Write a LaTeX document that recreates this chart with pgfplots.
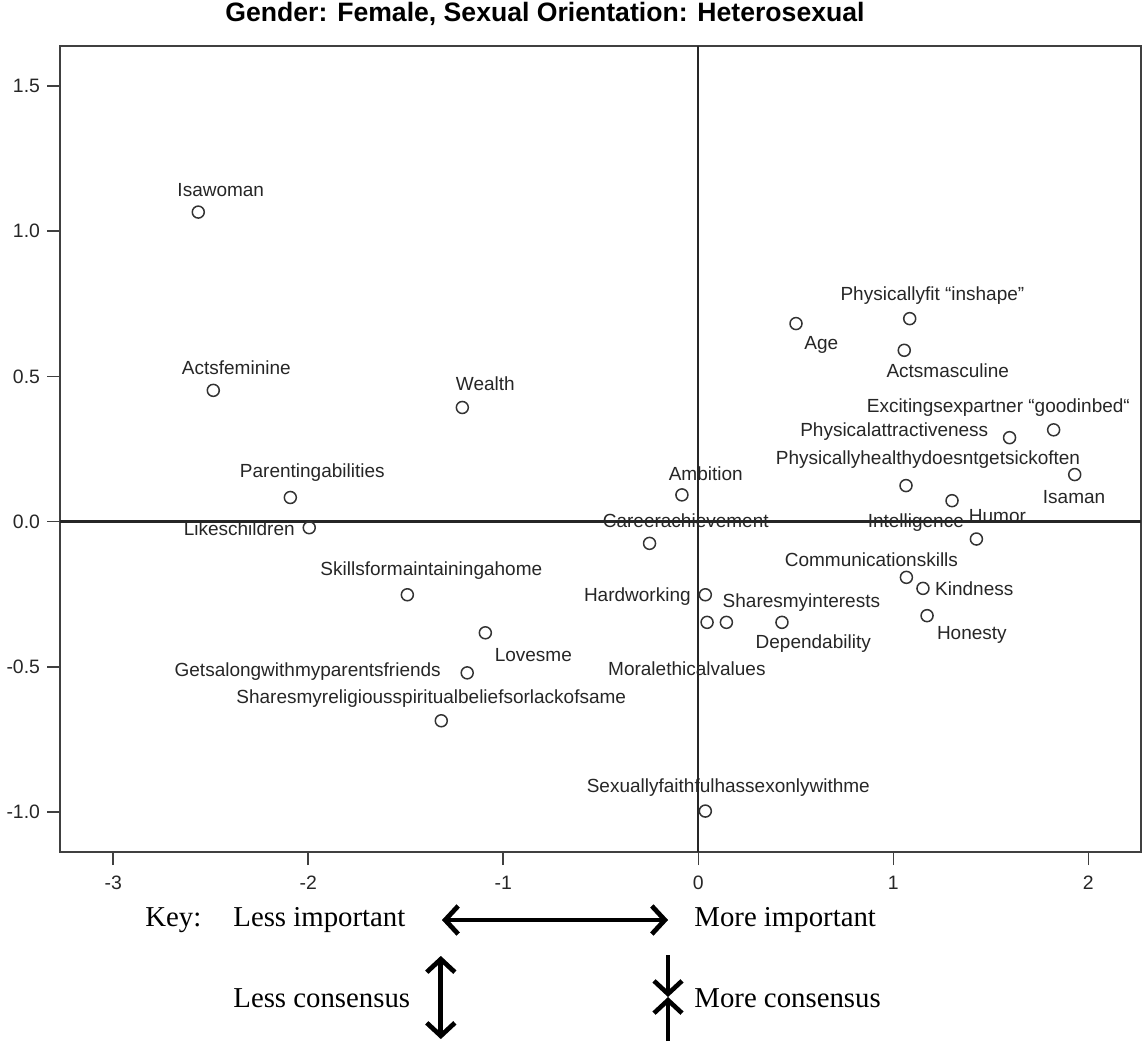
\documentclass[border=0pt]{standalone}
\usepackage{fontspec}
\setmainfont{Liberation Serif}
\newfontfamily\arial{Liberation Sans}
\usepackage{pgfplots}
\usepackage{pgfplotstable}
\pgfplotsset{compat=1.18}
\usetikzlibrary{arrows.meta, calc}

% columns: x, y, label offset dx/dy (pt), name
\pgfplotstableread[col sep=comma, row sep=\\]{
x,y,dx,dy,name\\
-2.564,1.066,11.25,11,Isawoman\\
-2.487,0.452,11.5,11.5,Actsfeminine\\
-1.210,0.393,11.5,12,Wealth\\
-2.092,0.083,11,12.5,Parentingabilities\\
-1.995,-0.021,-35,-0.5,Likeschildren\\
-1.492,-0.252,12,12,Skillsformaintainingahome\\
-1.092,-0.383,24,-11,Lovesme\\
-1.185,-0.521,-79.75,0.5,Getsalongwithmyparentsfriends\\
-1.318,-0.686,-5,11,Sharesmyreligiousspiritualbeliefsorlackofsame\\
-0.084,0.092,11.9,10.8,Ambition\\
-0.250,-0.075,18.1,11.35,Careerachievement\\
0.036,-0.252,-34,-1,Hardworking\\
0.144,-0.347,37.5,9.85,Sharesmyinterests\\
0.429,-0.347,15.65,-10.65,Dependability\\
0.045,-0.347,-10.1,-23.15,Moralethicalvalues\\
0.036,-0.997,11.5,11.65,Sexuallyfaithfulhassexonlywithme\\
1.084,0.699,11.35,11.65,Physicallyfit “inshape”\\
0.501,0.682,12.65,-10.85,Age\\
1.056,0.590,21.75,-10,Actsmasculine\\
1.822,0.316,-27.65,11.3,Excitingsexpartner “goodinbed“\\
1.596,0.289,-57.65,2.8,Physicalattractiveness\\
1.930,0.162,-0.3,-11,Isaman\\
1.065,0.124,11,12.85,Physicallyhealthydoesntgetsickoften\\
1.301,0.072,-18.1,-10.85,Intelligence\\
1.426,-0.060,10.5,11.65,Humor\\
1.067,-0.192,-17.5,8.85,Communicationskills\\
1.152,-0.230,25.65,-0.15,Kindness\\
1.173,-0.324,22.4,-9.5,Honesty\\
}\pts

\begin{document}
\begin{tikzpicture}
\begin{axis}[
  scale only axis, width=540.5pt, height=403pt,
  xmin=-3.273, xmax=2.270, ymin=-1.138, ymax=1.638,
  xtick={-3,-2,-1,0,1,2},
  ytick={-1,-0.5,0,0.5,1,1.5},
  yticklabel style={/pgf/number format/.cd, fixed, fixed zerofill, precision=1},
  tick align=outside, tick pos=left,
  major tick length=6.5pt,
  axis line style={black!75, line width=0.8pt},
  tick style={black!75, line width=0.8pt},
  ticklabel style={font=\arial\fontsize{9.7}{11}\selectfont, text=black!85},
  /pgf/number format/assume math mode=true,
  xticklabel style={yshift=-2pt},
  clip=false,
]
\coordinate (O) at (rel axis cs:0,0);
\addplot[black!85, line width=1.1pt, forget plot] coordinates {(-3.273,0) (2.270,0)};
\addplot[black!85, line width=1.1pt, forget plot] coordinates {(0,-1.138) (0,1.638)};
\addplot[only marks, mark=o, mark size=3pt,
  mark options={draw=black!80, line width=0.75pt, fill=none},
  point meta=explicit symbolic,
  visualization depends on={\thisrow{dx} \as \dx},
  visualization depends on={\thisrow{dy} \as \dy},
  nodes near coords,
  nodes near coords style={anchor=center, inner sep=0pt, xshift=\dx, yshift=\dy,
    font=\arial\fontsize{9.5}{11}\selectfont, text=black!85},
] table[x=x, y=y, meta=name] {\pts};
\end{axis}

% title
\node[font=\arial\bfseries\fontsize{13.3}{16}\selectfont] at ($(O)+(242.5pt,419pt)$)
  {Gender: Female, Sexual Orientation: Heterosexual};

% key
\begin{scope}[every node/.style={font=\fontsize{14.4}{17}\selectfont, anchor=west, inner sep=0pt}]
\node at ($(O)+(42.5pt,-34pt)$) {Key:};
\node at ($(O)+(86.5pt,-34pt)$) {Less important};
\node at ($(O)+(317pt,-34pt)$) {More important};
\node at ($(O)+(86.5pt,-73pt)$) {Less consensus};
\node at ($(O)+(317pt,-73pt)$) {More consensus};
\end{scope}
\tikzset{
  tip/.tip={Straight Barb[length=6.5pt, width=14pt, line width=2.3pt]},
  barb/.style={line width=2.4pt, arrows={tip-tip}},
  one/.style={line width=2.4pt, -tip}}
\draw[barb, black!45, shift={(1.2pt,-1.2pt)}] ($(O)+(191pt,-34pt)$) -- ($(O)+(304pt,-34pt)$);
\draw[barb] ($(O)+(191pt,-34pt)$) -- ($(O)+(304pt,-34pt)$);
\draw[barb, black!40, shift={(0.9pt,-0.9pt)}] ($(O)+(190.4pt,-52pt)$) -- ($(O)+(190.4pt,-93.5pt)$);
\draw[barb] ($(O)+(190.4pt,-52pt)$) -- ($(O)+(190.4pt,-93.5pt)$);
\draw[one] ($(O)+(304pt,-51.5pt)$) -- ($(O)+(304pt,-72.5pt)$);
\draw[one] ($(O)+(304pt,-94.5pt)$) -- ($(O)+(304pt,-72.5pt)$);

\pgfresetboundingbox
\path[use as bounding box] ($(O)+(-30pt,-94.5pt)$) rectangle ++(572pt,520.5pt);
\end{tikzpicture}
\end{document}
